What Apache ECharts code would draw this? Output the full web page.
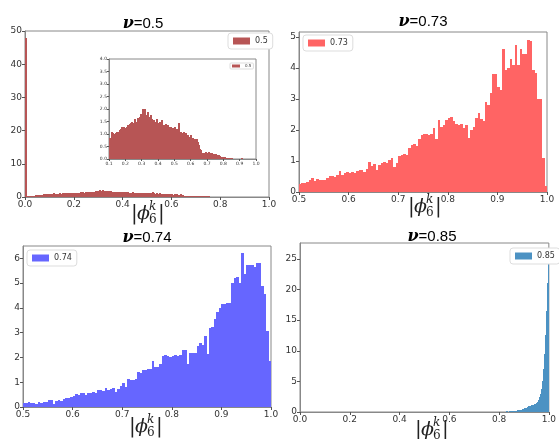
<!DOCTYPE html>
<html>
<head>
<meta charset="utf-8">
<script src="https://cdn.jsdelivr.net/npm/echarts@6/dist/echarts.min.js"></script>
<style>
  html, body { margin: 0; padding: 0; background: #fff; }
  #chart { width: 559px; height: 439px; }
</style>
</head>
<body>
<div id="chart"></div>
<script>
// histogram bins: start, width, heights (density)
const nuNames = ['0.5', '0.73', '0.74', '0.85']

const tlStart = 0, tlWidth = 0.005
const tlValues = [
  48,
  0.3, 0.25, 0.3, 0.35, 0.3, 0.35, 0.4, 0.5, 0.55, 0.6, 0.65, 0.7, 0.7, 0.75, 0.8, 0.82, 0.85, 0.88, 0.8,
  0.85, 0.82, 0.9, 1.1, 1.05, 0.95, 1.0, 1.05, 1.1, 1.05,
  1.1, 1.05, 1.15, 1.05, 1.2, 1.28, 1.25, 1.3, 1.2, 1.25,
  1.2, 1.3, 1.35, 1.25, 1.35, 1.4, 1.45, 1.5, 1.35, 1.45,
  1.6, 1.55, 1.45, 1.5, 1.65, 1.55, 1.5, 1.7, 1.8, 1.65,
  1.75, 2.0, 1.8, 2.0, 1.75, 1.7, 1.9, 1.75, 1.7, 1.65,
  1.75, 1.6, 1.5, 1.45, 1.55, 1.45, 1.5, 1.45, 1.6, 1.4,
  1.45, 1.5, 1.35, 1.4, 1.55, 1.3, 1.35, 1.25, 1.4, 1.3,
  1.2, 1.35, 1.25, 1.3, 1.2, 1.3, 1.15, 1.25, 1.1, 1.2,
  1.3, 1.05, 1.2, 1.1, 1.45, 1.15, 1.0, 1.1, 1.05, 0.95,
  1.1, 0.95, 1.0, 1.05, 0.9, 0.95, 0.85, 0.9, 0.8, 0.95,
  0.85, 0.75, 0.85, 0.7, 0.8, 0.75, 0.7, 0.8, 0.7, 0.55,
  0.4, 0.3, 0.35, 0.25, 0.2, 0.25, 0.2, 0.3, 0.2, 0.25,
  0.25, 0.3, 0.2, 0.25, 0.2, 0.25, 0.15, 0.2, 0.2, 0.15,
  0.2, 0.15, 0.1, 0.15, 0.1, 0.12, 0.1, 0.08, 0.1, 0.1,
  0.08, 0.1, 0.05, 0.06, 0.05, 0.04, 0.03, 0.04, 0.02, 0.03,
  0.02, 0.02, 0.01, 0.02, 0.01, 0.0, 0.01, 0.02, 0.01, 0.0,
  0.02, 0.01, 0.03, 0.01, 0.0, 0.02, 0.01, 0.0, 0.01, 0.02,
  0.01, 0.0, 0.02, 0.01, 0.0, 0.01, 0.02, 0.0, 0.01, 0.0
]

const trStart = 0.5, trWidth = 0.005
const trValues = [
  0.25, 0.3, 0.3, 0.32, 0.38, 0.45, 0.35, 0.42, 0.38, 0.38,
  0.4, 0.45, 0.5, 0.52, 0.48, 0.55, 0.68, 0.55, 0.6, 0.65,
  0.62, 0.65, 0.62, 0.68, 0.72, 0.72, 0.65, 0.75, 0.97, 0.85,
  0.9, 0.72, 0.88, 0.95, 0.98, 0.95, 1.02, 1.1, 0.82, 0.95,
  1.15, 1.2, 1.22, 1.2, 1.42, 1.5, 1.55, 1.48, 1.7, 1.85,
  1.88, 1.88, 1.85, 1.88, 2.05, 1.7, 2.32, 2.1, 2.15, 2.32,
  2.4, 2.42, 2.3, 2.2, 2.15, 2.2, 2.05, 2.15, 1.75, 2.0,
  2.1, 2.4, 2.55, 2.35, 2.3, 2.9, 2.8, 3.2, 3.8, 3.8,
  3.4, 3.3, 4.6, 3.95, 4.0, 4.3, 4.1, 4.75, 4.1, 4.6,
  4.45, 4.45, 4.9, 4.88, 3.95, 3.85, 3.0, 3.0, 1.1, 0.2
]

const blStart = 0.5, blWidth = 0.005
const blValues = [
  0.15, 0.15, 0.22, 0.18, 0.15, 0.12, 0.2, 0.18, 0.2, 0.22,
  0.28, 0.3, 0.12, 0.25, 0.28, 0.25, 0.32, 0.35, 0.38, 0.42,
  0.45, 0.52, 0.48, 0.55, 0.58, 0.5, 0.55, 0.58, 0.6, 0.55,
  0.7, 0.68, 0.65, 0.75, 0.7, 0.72, 0.78, 0.6, 0.72, 0.85,
  0.98, 0.8, 1.12, 1.1, 1.1, 1.15, 1.42, 1.38, 1.5, 1.48,
  1.55, 1.52, 1.85, 1.6, 1.62, 1.72, 2.05, 2.08, 2.05, 2.02,
  2.05, 2.1, 2.05, 2.1, 2.3, 2.3, 1.75, 2.2, 2.2, 2.2,
  2.45, 2.6, 2.5, 2.85, 2.15, 3.2, 3.25, 3.55, 3.85, 4.0,
  4.15, 4.15, 4.2, 4.2, 5.0, 5.2, 5.25, 5.0, 6.2, 5.35,
  5.75, 5.75, 5.75, 5.65, 5.8, 5.8, 4.9, 4.55, 3.05, 1.85
]

const brStart = 0.82, brWidth = 0.004
const brValues = [
  0.05, 0.0, 0.1, 0.05, 0.05, 0.1, 0.08, 0.1, 0.12, 0.15,
  0.15, 0.2, 0.18, 0.25, 0.3, 0.3, 0.35, 0.4, 0.5, 0.45,
  0.6, 0.7, 0.65, 0.8, 0.9, 1.0, 0.95, 1.1, 1.2, 1.1,
  1.3, 1.2, 1.5, 1.7, 2.0, 2.4, 3.0, 3.8, 5.0, 7.0,
  9.5, 12.5, 16.5, 21.0, 26.0
]

// tick values
const xTicksFull = [0, 0.2, 0.4, 0.6, 0.8, 1.0]
const xTicksHalf = [0.5, 0.6, 0.7, 0.8, 0.9, 1.0]
const xTicksInset = [0.1, 0.2, 0.3, 0.4, 0.5, 0.6, 0.7, 0.8, 0.9, 1.0]
const yTicksTL = [0, 10, 20, 30, 40, 50]
const yTicksTR = [0, 1, 2, 3, 4, 5]
const yTicksBL = [0, 1, 2, 3, 4, 5, 6]
const yTicksBR = [0, 5, 10, 15, 20, 25]
const yTicksInset = [0, 0.5, 1.0, 1.5, 2.0, 2.5, 3.0, 3.5, 4.0]

const colors = ['#b75555', '#ff6464', '#6666ff', '#4c92c3']

function bins(start, width, values) {
  return values.map((v, i) => [start + i * width, start + (i + 1) * width, v])
}

// snap bar edges to whole pixels so neighbouring bars meet without seams
function renderBar(params, api) {
  const p0 = api.coord([api.value(0), api.value(2)])
  const p1 = api.coord([api.value(1), 0])
  const x0 = Math.round(p0[0]), x1 = Math.round(p1[0])
  const y0 = Math.round(p0[1]), y1 = Math.round(p1[1])
  if (y1 <= y0) return null
  return {
    type: 'rect',
    shape: {x: x0, y: y0, width: Math.max(x1 - x0, 2), height: y1 - y0},
    style: {fill: api.visual('color')}
  }
}

function xAxis(gridIndex, min, max, ticks, fontSize) {
  return {
    type: 'value', gridIndex, min, max,
    axisLine: {show: true, onZero: false, lineStyle: {color: '#888'}},
    axisTick: {show: true, length: fontSize > 6 ? 3 : 2, customValues: ticks, lineStyle: {color: '#555'}},
    axisLabel: {customValues: ticks, formatter: v => v.toFixed(1), fontSize, color: '#333',
      margin: fontSize > 6 ? 3 : 2, fontFamily: 'DejaVu Sans', hideOverlap: false},
    splitLine: {show: false}
  }
}

function yAxis(gridIndex, max, ticks, fontSize, digits) {
  return {
    type: 'value', gridIndex, min: 0, max,
    axisLine: {show: true, lineStyle: {color: '#888'}},
    axisTick: {show: true, length: fontSize > 6 ? 3 : 2, customValues: ticks, lineStyle: {color: '#555'}},
    axisLabel: {customValues: ticks, formatter: v => v.toFixed(digits), fontSize, color: '#333',
      margin: fontSize > 6 ? 3 : 2, fontFamily: 'DejaVu Sans'},
    splitLine: {show: false}
  }
}

function legend(name, left, top, small) {
  return {
    data: [name], left, top, orient: 'vertical',
    icon: 'rect',
    itemWidth: small ? 8 : 17, itemHeight: small ? 3 : 7,
    padding: small ? [1, 2] : [4, 5],
    backgroundColor: '#fff', borderColor: '#ddd', borderWidth: 1, borderRadius: small ? 1 : 3,
    selectedMode: false,
    textStyle: {fontSize: small ? 4 : 8, color: '#333', fontFamily: 'DejaVu Sans', padding: 0}
  }
}

function title(text, x, y) {
  return {
    type: 'text', x, y,
    style: {
      text: '{nu|ν}=' + text, align: 'center', verticalAlign: 'middle',
      fontSize: 15, fontFamily: 'Liberation Sans', fill: '#000',
      rich: {nu: {fontSize: 16, fontFamily: 'DejaVu Serif', fontStyle: 'italic', fontWeight: 'bold'}}
    }
  }
}

function phiLabel(x, y) {
  const base = {fill: '#222', fontFamily: 'DejaVu Serif', verticalAlign: 'middle'}
  return {
    type: 'group', x, y,
    children: [
      {type: 'text', x: -17, y: 0, style: {...base, text: '|', fontSize: 20}},
      {type: 'text', x: -11, y: 0, style: {...base, text: 'ϕ', fontSize: 19, fontStyle: 'italic'}},
      {type: 'text', x: 1, y: -7, style: {...base, text: 'k', fontSize: 12, fontStyle: 'italic'}},
      {type: 'text', x: 1, y: 6, style: {...base, text: '6', fontSize: 12}},
      {type: 'text', x: 10, y: 0, style: {...base, text: '|', fontSize: 20}}
    ]
  }
}

const chart = echarts.init(document.getElementById('chart'))
const gridBase = {show: true, borderColor: '#888', borderWidth: 1, backgroundColor: '#fff', containLabel: false}

const option = {
  animation: false,
  backgroundColor: '#fff',
  grid: [
    {...gridBase, left: 25, top: 31, width: 244, height: 166},
    {...gridBase, left: 299, top: 32, width: 248, height: 160},
    {...gridBase, left: 23, top: 246, width: 248, height: 161},
    {...gridBase, left: 300, top: 243, width: 258, height: 169},
    {...gridBase, left: 109, top: 59, width: 147, height: 100}
  ],
  xAxis: [
    xAxis(0, 0, 1, xTicksFull, 9),
    xAxis(1, 0.5, 1, xTicksHalf, 9),
    xAxis(2, 0.5, 1, xTicksHalf, 9),
    xAxis(3, 0, 1, xTicksFull, 9),
    xAxis(4, 0.1, 1, xTicksInset, 4.5)
  ],
  yAxis: [
    yAxis(0, 50, yTicksTL, 9, 0),
    yAxis(1, 5.16, yTicksTR, 9, 0),
    yAxis(2, 6.5, yTicksBL, 9, 0),
    yAxis(3, 27.6, yTicksBR, 9, 0),
    yAxis(4, 4, yTicksInset, 4.5, 1)
  ],
  legend: [
    legend(nuNames[0], 228, 33, false),
    legend(nuNames[1], 303, 35, false),
    legend(nuNames[2], 27, 250, false),
    legend(nuNames[3], 510, 248, false),
    legend(nuNames[0], 230, 63, true)
  ],
  series: [
    {name: nuNames[0], type: 'custom', xAxisIndex: 0, yAxisIndex: 0, clip: true,
      itemStyle: {color: colors[0]}, renderItem: renderBar, data: bins(tlStart, tlWidth, tlValues)},
    {name: nuNames[1], type: 'custom', xAxisIndex: 1, yAxisIndex: 1, clip: true,
      itemStyle: {color: colors[1]}, renderItem: renderBar, data: bins(trStart, trWidth, trValues)},
    {name: nuNames[2], type: 'custom', xAxisIndex: 2, yAxisIndex: 2, clip: true,
      itemStyle: {color: colors[2]}, renderItem: renderBar, data: bins(blStart, blWidth, blValues)},
    {name: nuNames[3], type: 'custom', xAxisIndex: 3, yAxisIndex: 3, clip: true,
      itemStyle: {color: colors[3]}, renderItem: renderBar, data: bins(brStart, brWidth, brValues)},
    {name: nuNames[0], type: 'custom', xAxisIndex: 4, yAxisIndex: 4, clip: true,
      itemStyle: {color: colors[0]}, renderItem: renderBar, data: bins(tlStart, tlWidth, tlValues)}
  ],
  graphic: [
    title(nuNames[0], 143, 24),
    title(nuNames[1], 423, 22),
    title(nuNames[2], 147, 238),
    title(nuNames[3], 432, 237),
    phiLabel(148, 214),
    phiLabel(425, 207),
    phiLabel(146, 427),
    phiLabel(432, 430)
  ]
}
chart.setOption(option)
</script>
</body>
</html>
